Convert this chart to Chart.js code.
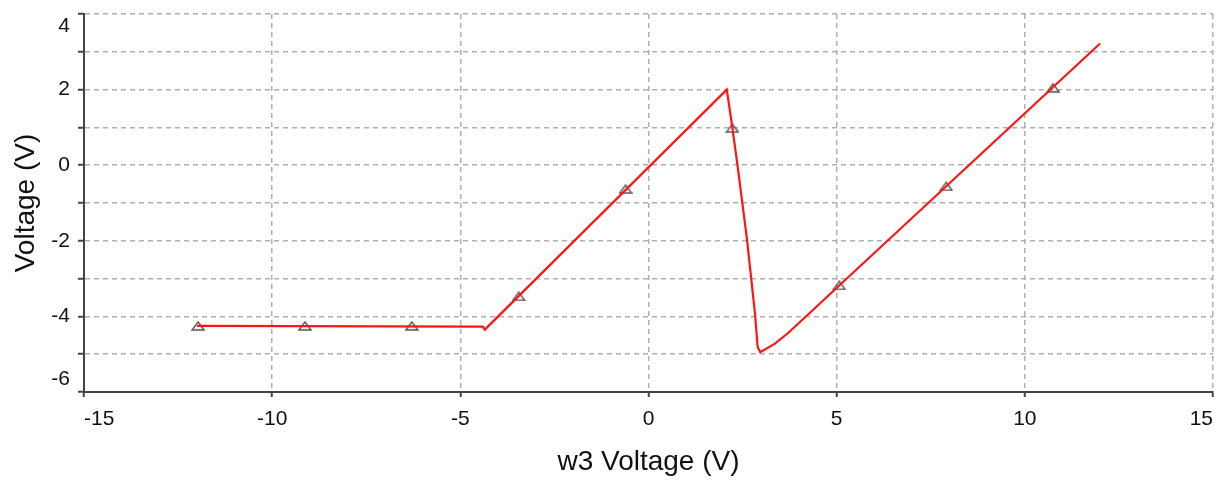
<!DOCTYPE html>
<html>
<head>
<meta charset="utf-8">
<script src="https://cdn.jsdelivr.net/npm/chart.js@4.4.1/dist/chart.umd.min.js"></script>
<style>
  html, body { margin: 0; padding: 0; background: #fff; }
  .chart-wrap { position: relative; width: 1220px; height: 480px; }
</style>
</head>
<body>
<div class="chart-wrap"><canvas id="chart"></canvas></div>
<script>
// sweep trace (w3 voltage -> output voltage)
const sweepX = [-12.0, -4.4, -4.35, 2.08, 2.16, 2.23, 2.37, 2.62, 2.83, 2.90, 2.97, 3.36, 3.71, 12.0];
const sweepY = [-4.25, -4.27, -4.35, 2.0, 1.46, 0.98, -0.04, -1.99, -3.93, -4.81, -4.95, -4.72, -4.44, 3.22];

// triangle markers along the trace
const markerX = [-11.97, -9.13, -6.29, -3.45, -0.61, 2.23, 5.07, 7.91, 10.75];
const markerY = [-4.25, -4.25, -4.25, -3.47, -0.63, 0.98, -3.18, -0.56, 2.05];

const xRange = [-15, 15];
const yRange = [-6, 4];
const yTickLabels = [-6, -4, -2, 0, 2, 4];

const xTitle = 'w3 Voltage (V)';
const yTitle = 'Voltage (V)';

const FONT = "'Liberation Sans', Arial, sans-serif";
const TEXT = '#111';
const GRID = '#b0b0b0';
const AXIS = '#444';

// flat grey triangle, a bit wider than tall
const tri = document.createElement('canvas');
tri.width = 14;
tri.height = 10;
const tctx = tri.getContext('2d');
tctx.strokeStyle = '#555';
tctx.lineWidth = 1.4;
tctx.beginPath();
tctx.moveTo(7, 1);
tctx.lineTo(13, 9);
tctx.lineTo(1, 9);
tctx.closePath();
tctx.stroke();

const toPoints = (xs, ys) => xs.map((x, i) => ({ x, y: ys[i] }));

const yLabel = value => {
  if (!yTickLabels.includes(value)) return '';
  // push the end labels inward like the original
  if (value === yRange[1]) return ['', String(value)];
  if (value === yRange[0]) return [String(value), ''];
  return String(value);
};

new Chart(document.getElementById('chart'), {
  type: 'scatter',
  data: {
    datasets: [
      {
        data: toPoints(sweepX, sweepY),
        showLine: true,
        borderColor: '#ff1414',
        borderWidth: 2.2,
        pointRadius: 0,
        tension: 0
      },
      {
        data: toPoints(markerX, markerY),
        showLine: false,
        pointStyle: tri,
        pointRadius: 6
      }
    ]
  },
  options: {
    responsive: true,
    maintainAspectRatio: false,
    animation: false,
    layout: { padding: { top: 14, right: 7, left: 0, bottom: 0 } },
    plugins: {
      legend: { display: false },
      tooltip: { enabled: false }
    },
    scales: {
      x: {
        type: 'linear',
        position: 'bottom',
        min: xRange[0],
        max: xRange[1],
        ticks: {
          stepSize: 5,
          align: 'inner',
          padding: 10,
          maxRotation: 0,
          autoSkip: false,
          color: TEXT,
          font: { family: FONT, size: 21 }
        },
        grid: {
          color: GRID,
          lineWidth: 1.5,
          tickLength: 5,
          tickColor: AXIS,
          tickWidth: 2
        },
        border: { color: AXIS, width: 2, dash: [5, 4] },
        title: {
          display: true,
          text: xTitle,
          color: TEXT,
          font: { family: FONT, size: 28 },
          padding: { top: 0, bottom: 1 }
        },
        afterFit: scale => {
          scale.height = 88;
          scale.paddingLeft = 0;
          scale.paddingRight = 0;
        }
      },
      y: {
        type: 'linear',
        min: yRange[0],
        max: yRange[1],
        ticks: {
          stepSize: 1,
          padding: 8,
          autoSkip: false,
          color: TEXT,
          font: { family: FONT, size: 21 },
          callback: yLabel
        },
        grid: {
          color: GRID,
          lineWidth: 1.5,
          tickLength: 6,
          tickColor: AXIS,
          tickWidth: 2
        },
        border: { color: AXIS, width: 2, dash: [5, 4] },
        title: {
          display: true,
          text: yTitle,
          color: TEXT,
          font: { family: FONT, size: 28 },
          padding: { top: 9, bottom: 0 }
        },
        afterFit: scale => {
          scale.width = 84;
          scale.paddingTop = 0;
          scale.paddingBottom = 0;
        }
      }
    }
  }
});
</script>
</body>
</html>
